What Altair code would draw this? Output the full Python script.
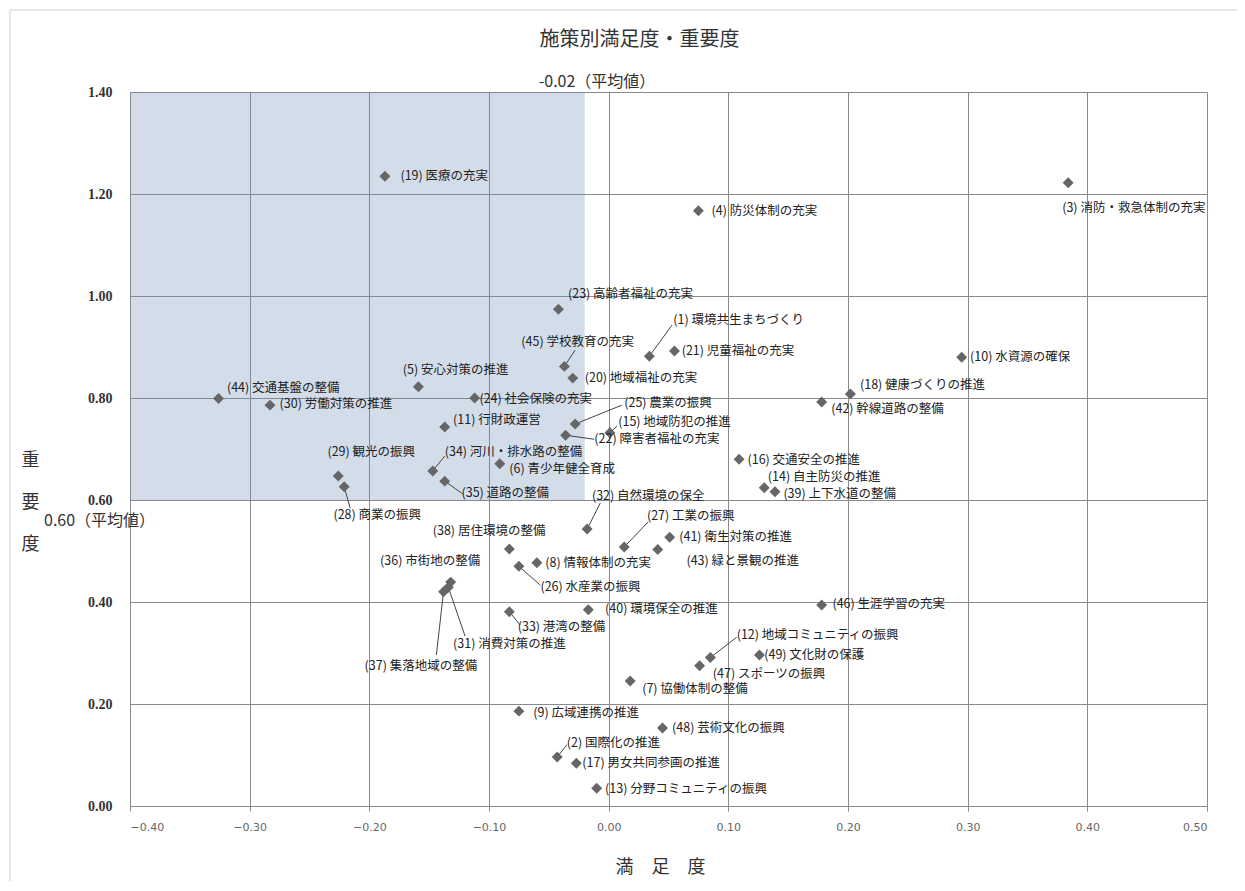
import altair as alt
import pandas as pd

# ---- data ----
ids = [1, 2, 3, 4, 5, 6, 7, 8, 9, 10, 11, 12, 13, 14, 15, 16, 17, 18, 19, 20,
       21, 22, 23, 24, 25, 26, 27, 28, 29, 30, 31, 32, 33, 34, 35, 36, 37, 38, 39, 40,
       41, 42, 43, 44, 45, 46, 47, 48, 49]
names = ["環境共生まちづくり", "国際化の推進", "消防・救急体制の充実", "防災体制の充実", "安心対策の推進",
         "青少年健全育成", "協働体制の整備", "情報体制の充実", "広域連携の推進", "水資源の確保",
         "行財政運営", "地域コミュニティの振興", "分野コミュニティの振興", "自主防災の推進", "地域防犯の推進",
         "交通安全の推進", "男女共同参画の推進", "健康づくりの推進", "医療の充実", "地域福祉の充実",
         "児童福祉の充実", "障害者福祉の充実", "高齢者福祉の充実", "社会保険の充実", "農業の振興",
         "水産業の振興", "工業の振興", "商業の振興", "観光の振興", "労働対策の推進",
         "消費対策の推進", "自然環境の保全", "港湾の整備", "河川・排水路の整備", "道路の整備",
         "市街地の整備", "集落地域の整備", "居住環境の整備", "上下水道の整備", "環境保全の推進",
         "衛生対策の推進", "幹線道路の整備", "緑と景観の推進", "交通基盤の整備", "学校教育の充実",
         "生涯学習の充実", "スポーツの振興", "芸術文化の振興", "文化財の保護"]
satisfaction = [0.034, -0.043, 0.384, 0.075, -0.159, -0.091, 0.018, -0.060, -0.075, 0.295,
                -0.137, 0.085, -0.010, 0.130, 0.001, 0.109, -0.027, 0.202, -0.187, -0.030,
                0.055, -0.036, -0.042, -0.112, -0.028, -0.075, 0.013, -0.221, -0.226, -0.283,
                -0.134, -0.018, -0.083, -0.147, -0.137, -0.132, -0.138, -0.083, 0.139, -0.017,
                0.051, 0.178, 0.041, -0.326, -0.037, 0.178, 0.076, 0.045, 0.126]
importance = [0.882, 0.096, 1.222, 1.167, 0.822, 0.671, 0.245, 0.477, 0.186, 0.880,
              0.743, 0.291, 0.035, 0.624, 0.732, 0.680, 0.084, 0.808, 1.235, 0.839,
              0.892, 0.727, 0.974, 0.800, 0.749, 0.470, 0.508, 0.626, 0.647, 0.786,
              0.429, 0.543, 0.381, 0.657, 0.637, 0.439, 0.420, 0.504, 0.616, 0.385,
              0.527, 0.792, 0.503, 0.799, 0.862, 0.394, 0.275, 0.153, 0.296]
# label anchor (left edge, vertical middle), in data units
label_x = [0.054, -0.035, 0.379, 0.086, -0.172, -0.083, 0.028, -0.053, -0.063, 0.302,
           -0.130, 0.107, -0.003, 0.133, 0.008, 0.116, -0.022, 0.210, -0.174, -0.020,
           0.061, -0.012, -0.034, -0.108, 0.013, -0.057, 0.032, -0.230, -0.235, -0.275,
           -0.130, -0.014, -0.076, -0.137, -0.123, -0.191, -0.204, -0.147, 0.146, -0.003,
           0.059, 0.186, 0.065, -0.319, -0.073, 0.187, 0.087, 0.053, 0.130]
label_y = [0.953, 0.124, 1.173, 1.167, 0.855, 0.661, 0.229, 0.476, 0.182, 0.880,
           0.757, 0.336, 0.033, 0.645, 0.752, 0.678, 0.084, 0.825, 1.235, 0.839,
           0.892, 0.719, 1.004, 0.798, 0.790, 0.429, 0.569, 0.571, 0.694, 0.788,
           0.318, 0.608, 0.351, 0.694, 0.614, 0.480, 0.275, 0.539, 0.612, 0.386,
           0.527, 0.778, 0.480, 0.820, 0.910, 0.396, 0.259, 0.153, 0.297]
# leader lines: item id and the end point near its label
leader_ids = [1, 45, 25, 15, 22, 34, 35, 28, 32, 27, 26, 33, 31, 37, 12, 2]
leader_end_x = [0.053, -0.028, 0.011, 0.007, -0.012, -0.137, -0.122, -0.216, -0.007, 0.033,
                -0.057, -0.074, -0.120, -0.144, 0.107, -0.035]
leader_end_y = [0.943, 0.894, 0.786, 0.745, 0.719, 0.686, 0.612, 0.584, 0.594, 0.557,
                0.433, 0.355, 0.333, 0.296, 0.331, 0.120]

mean_satisfaction = -0.02
mean_importance = 0.60
x_min, x_max = -0.40, 0.50
y_min, y_max = 0.00, 1.40
title_text = "施策別満足度・重要度"

FONT = "Noto Sans CJK JP"

df = pd.DataFrame({
    "id": ids,
    "name": names,
    "満足度": satisfaction,
    "重要度": importance,
    "lx": label_x,
    "ly": label_y,
})
df["label"] = ["(" + str(i) + ") " + n for i, n in zip(ids, names)]

lead = pd.DataFrame({"id": leader_ids, "ex": leader_end_x, "ey": leader_end_y})
lead = lead.merge(df[["id", "満足度", "重要度"]], on="id")

quad = pd.DataFrame({"x": [x_min], "x2": [mean_satisfaction],
                     "y": [mean_importance], "y2": [y_max]})

xscale = alt.Scale(domain=[x_min, x_max], nice=False, zero=False)
yscale = alt.Scale(domain=[y_min, y_max], nice=False, zero=False)

xaxis = alt.Axis(values=[-0.4, -0.3, -0.2, -0.1, 0.0, 0.1, 0.2, 0.3, 0.4, 0.5],
                 format=".2f", title="満　足　度", titleFont=FONT, titleFontSize=18,
                 titleFontWeight="normal", titleColor="#333", titleY=52, titleX=530,
                 labelFont="DejaVu Sans", labelFontSize=11, labelColor="#666",
                 labelPadding=10, grid=True, gridColor="#8a8a8a", gridWidth=1,
                 domain=False, tickColor="#8a8a8a", tickSize=5)
yaxis = alt.Axis(values=[0.0, 0.2, 0.4, 0.6, 0.8, 1.0, 1.2, 1.4],
                 format=".2f", title=["重", "要", "度"], titleAngle=0,
                 titleFont=FONT, titleFontSize=18, titleFontWeight="normal",
                 titleColor="#333", titleLineHeight=42, titleX=-100, titleY=368,
                 titleAlign="center", titleBaseline="middle",
                 labelFont="Liberation Serif", labelFontSize=14, labelFontWeight="bold",
                 labelColor="#333", labelPadding=18,
                 grid=True, gridColor="#8a8a8a", gridWidth=1,
                 domain=False, ticks=False)

shade = alt.Chart(quad).mark_rect(color="#6c8eb9", opacity=0.3).encode(
    x=alt.X("x:Q", scale=xscale, axis=xaxis),
    x2="x2:Q",
    y=alt.Y("y:Q", scale=yscale, axis=yaxis),
    y2="y2:Q",
)

leaders = alt.Chart(lead).mark_rule(color="#444", strokeWidth=1).encode(
    x=alt.X("満足度:Q", scale=xscale),
    y=alt.Y("重要度:Q", scale=yscale),
    x2="ex:Q",
    y2="ey:Q",
)

points = alt.Chart(df).mark_point(shape="diamond", filled=True, size=120,
                                  color="#666666", opacity=1).encode(
    x=alt.X("満足度:Q", scale=xscale),
    y=alt.Y("重要度:Q", scale=yscale),
    tooltip=["label:N", "満足度:Q", "重要度:Q"],
)

labels = alt.Chart(df).mark_text(align="left", baseline="middle", font=FONT,
                                 fontSize=12.5, color="#222").encode(
    x=alt.X("lx:Q", scale=xscale),
    y=alt.Y("ly:Q", scale=yscale),
    text="label:N",
)

mean_x_df = pd.DataFrame({"x": [mean_satisfaction], "y": [y_max],
                          "t": [f"{mean_satisfaction:.2f}（平均値）"]})
mean_y_df = pd.DataFrame({"x": [x_min], "y": [mean_importance],
                          "t": [f"{mean_importance:.2f}（平均値）"]})

mean_x_text = alt.Chart(mean_x_df).mark_text(align="left", baseline="middle", font=FONT,
                                             fontSize=16, color="#333", dx=-46, dy=-10).encode(
    x=alt.X("x:Q", scale=xscale), y=alt.Y("y:Q", scale=yscale), text="t:N")
mean_y_text = alt.Chart(mean_y_df).mark_text(align="left", baseline="middle", font=FONT,
                                             fontSize=16, color="#333", dx=-86, dy=21).encode(
    x=alt.X("x:Q", scale=xscale), y=alt.Y("y:Q", scale=yscale), text="t:N")

title_df = pd.DataFrame({"x": [(x_min + x_max) / 2], "y": [y_max], "t": [title_text]})
title_mark = alt.Chart(title_df).mark_text(align="center", baseline="middle", font=FONT,
                                           fontSize=20, color="#333",
                                           dx=-29, dy=-52).encode(
    x=alt.X("x:Q", scale=xscale), y=alt.Y("y:Q", scale=yscale), text="t:N")

border = alt.Chart(quad).mark_rect(fill=None, stroke="#cfcfcf", strokeWidth=1).encode(
    x=alt.value(-120), x2=alt.value(1108), y=alt.value(-82), y2=alt.value(792))

chart = alt.layer(border, shade, leaders, points, labels, mean_x_text, mean_y_text,
                  title_mark).properties(
    width=1077,
    height=714,
    autosize=alt.AutoSizeParams(type="none"),
    padding={"left": 122, "top": 84, "right": 30, "bottom": 75},
).configure_view(stroke=None)

chart.save("out.html", embed_options={"renderer": "svg", "actions": False})
